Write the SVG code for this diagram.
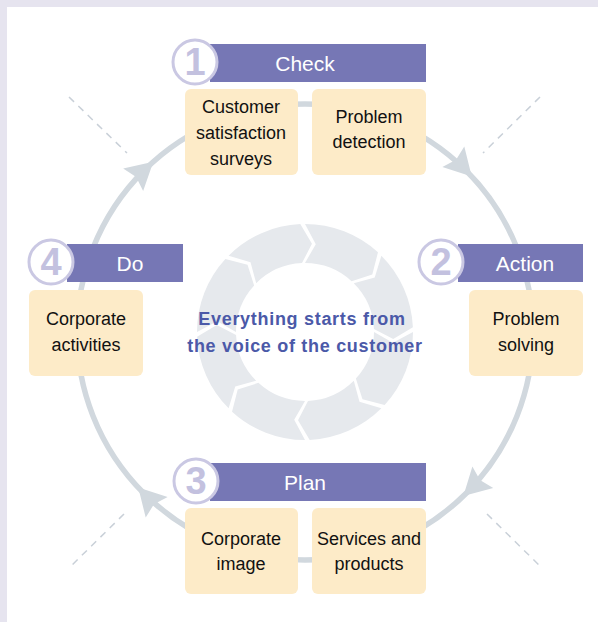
<svg xmlns="http://www.w3.org/2000/svg" xmlns:xlink="http://www.w3.org/1999/xlink" width="598" height="622" viewBox="0 0 598 622">
<style>
.band{fill:#e6e4ef}
.bar{fill:#7677b5}
.bartxt{font-family:"Liberation Sans",Arial,sans-serif;font-size:21px;fill:#ffffff;text-anchor:middle}
.badge{fill:#ffffff;stroke:#cac8e3;stroke-width:3}
.num{font-family:"Liberation Sans",Arial,sans-serif;font-size:38px;font-weight:bold;fill:#c3c1df;text-anchor:middle}
.box{fill:#fdebc8}
.btxt{font-family:"Liberation Sans",Arial,sans-serif;font-size:18px;fill:#111111;text-anchor:middle}
.ring{fill:none;stroke:#d1d8de;stroke-width:5.5}
.ah{fill:#d1d8de}
.dash{stroke:#c9d0d8;stroke-width:1.5;stroke-dasharray:7 6;fill:none}
.gear{fill:#e6e9ed}
.ctxt{font-family:"Liberation Sans",Arial,sans-serif;font-size:18px;font-weight:bold;fill:#4b59a8;text-anchor:middle;letter-spacing:0.7px}
</style>
<defs>
<path id="seg" d="M108,0 A108,108 0 0 1 79.63,72.97 L57.47,67.30 L50.87,46.62 A69,69 0 0 0 69,0 L87.84,10.79 Z"/>
<polygon id="arrow" points="0,0 -27,-15 -23,0 -27,15"/>
</defs>
<rect x="0" y="0" width="598" height="622" fill="#ffffff"/>
<rect class="band" x="0" y="0" width="598" height="7"/>
<rect class="band" x="0" y="0" width="7" height="622"/>

<g id="center">
<g class="gear">
<use xlink:href="#seg" transform="translate(305,332) rotate(0)"/>
<use xlink:href="#seg" transform="translate(305,332) rotate(45)"/>
<use xlink:href="#seg" transform="translate(305,332) rotate(90)"/>
<use xlink:href="#seg" transform="translate(305,332) rotate(135)"/>
<use xlink:href="#seg" transform="translate(305,332) rotate(180)"/>
<use xlink:href="#seg" transform="translate(305,332) rotate(225)"/>
<use xlink:href="#seg" transform="translate(305,332) rotate(270)"/>
<use xlink:href="#seg" transform="translate(305,332) rotate(315)"/>
</g>
<text class="ctxt" x="302" y="325">Everything starts from</text>
<text class="ctxt" x="305" y="352">the voice of the customer</text>
</g>

<g id="connectors">
<line class="dash" x1="69" y1="97" x2="127" y2="153"/>
<line class="dash" x1="540" y1="97" x2="483" y2="153"/>
<line class="dash" x1="487" y1="514" x2="541" y2="567"/>
<line class="dash" x1="124" y1="514" x2="70" y2="567"/>
<circle class="ring" cx="305" cy="332" r="228"/>
<use class="ah" xlink:href="#arrow" transform="translate(305,332) rotate(228.3) translate(228,0) rotate(90)"/>
<use class="ah" xlink:href="#arrow" transform="translate(305,332) rotate(-43) translate(228,0) rotate(90)"/>
<use class="ah" xlink:href="#arrow" transform="translate(305,332) rotate(46) translate(228,0) rotate(90)"/>
<use class="ah" xlink:href="#arrow" transform="translate(305,332) rotate(137) translate(228,0) rotate(90)"/>
</g>

<g id="check">
<rect class="bar" x="210" y="44" width="216" height="38"/>
<text class="bartxt" x="305" y="71">Check</text>
<circle class="badge" cx="195" cy="62" r="22"/>
<text class="num" x="195" y="75">1</text>
</g>
<g id="customer-satisfaction-surveys">
<rect class="box" x="185" y="89" width="113" height="86" rx="6"/>
<text class="btxt" x="241" y="113">Customer</text>
<text class="btxt" x="241" y="139">satisfaction</text>
<text class="btxt" x="241" y="165">surveys</text>
</g>
<g id="problem-detection">
<rect class="box" x="312" y="89" width="114" height="86" rx="6"/>
<text class="btxt" x="369" y="123">Problem</text>
<text class="btxt" x="369" y="148">detection</text>
</g>

<g id="action">
<rect class="bar" x="458" y="244" width="125" height="38"/>
<text class="bartxt" x="525" y="271">Action</text>
<circle class="badge" cx="441" cy="262" r="22"/>
<text class="num" x="441" y="275">2</text>
</g>
<g id="problem-solving">
<rect class="box" x="469" y="290" width="114" height="86" rx="6"/>
<text class="btxt" x="526" y="325">Problem</text>
<text class="btxt" x="526" y="351">solving</text>
</g>

<g id="do">
<rect class="bar" x="67" y="244" width="116" height="38"/>
<text class="bartxt" x="130" y="271">Do</text>
<circle class="badge" cx="51" cy="262" r="22"/>
<text class="num" x="51" y="275">4</text>
</g>
<g id="corporate-activities">
<rect class="box" x="29" y="290" width="114" height="86" rx="6"/>
<text class="btxt" x="86" y="325">Corporate</text>
<text class="btxt" x="86" y="351">activities</text>
</g>

<g id="plan">
<rect class="bar" x="210" y="463" width="216" height="38"/>
<text class="bartxt" x="305" y="490">Plan</text>
<circle class="badge" cx="196" cy="481" r="22"/>
<text class="num" x="196" y="494">3</text>
</g>
<g id="corporate-image">
<rect class="box" x="185" y="508" width="113" height="86" rx="6"/>
<text class="btxt" x="241" y="545">Corporate</text>
<text class="btxt" x="241" y="570">image</text>
</g>
<g id="services-and-products">
<rect class="box" x="312" y="508" width="114" height="86" rx="6"/>
<text class="btxt" x="369" y="545">Services and</text>
<text class="btxt" x="369" y="570">products</text>
</g>
</svg>
